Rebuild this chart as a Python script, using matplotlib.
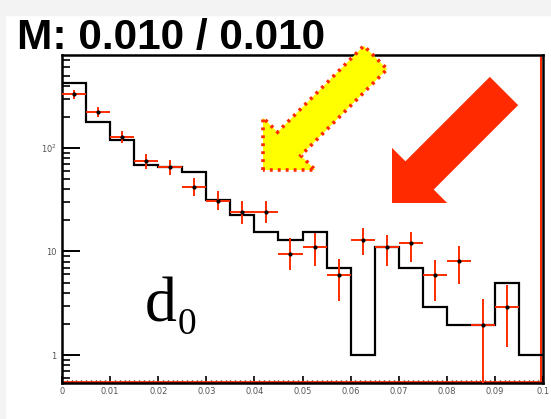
import numpy as np
import matplotlib.pyplot as plt
from matplotlib.patches import FancyArrow, Rectangle

# 20 bins on 0 .. 0.1
edges = np.linspace(0.0, 0.1, 21)
centers = 0.5 * (edges[:-1] + edges[1:])

# black step histogram
mc_counts = [422, 180, 119, 69, 65, 59, 31.5, 22.5, 15.5, 12.9,
             15.5, 6.9, 1.0, 11.1, 6.9, 2.93, 1.95, 1.95, 4.93, 1.0]

# red points, with lower / upper ends of the error bars
data_counts = np.array([330, 224, 127, 74, 65, 42, 31, 24, 24.3, 9.5,
                        11.1, 5.9, 12.9, 11.1, 12.0, 5.9, 8.15, 1.95, 2.93])
data_low = np.array([300, 200, 111, 63, 55, 34.5, 25, 18.5, 19, 6.6,
                     7.2, 3.3, 9.25, 7.2, 8.0, 3.3, 4.85, 0.3, 1.2])
data_high = np.array([360, 250, 145, 87, 77, 51.5, 38, 31, 31, 13.5,
                      15, 8.4, 16.8, 14.4, 15.5, 8.3, 11.3, 3.5, 4.75])

xticks = [0, 0.01, 0.02, 0.03, 0.04, 0.05, 0.06, 0.07, 0.08, 0.09, 0.1]
xtick_labels = ['0', '0.01', '0.02', '0.03', '0.04', '0.05', '0.06',
                '0.07', '0.08', '0.09', '0.1']
yticks = [1, 10, 100]
ytick_labels = ['1', '10', r'$10^{2}$']

title = 'M: 0.010 / 0.010'
red = '#ff2a00'

W, H = 551, 419
fig = plt.figure(figsize=(W / 100, H / 100), dpi=100)
fig.patch.set_facecolor('white')
fig.patches.append(Rectangle((0, 1 - 15 / H), 1, 15 / H, transform=fig.transFigure,
                             color='#f3f3f3', zorder=-5))
fig.patches.append(Rectangle((0, 0), 5 / W, 1, transform=fig.transFigure,
                             color='#f3f3f3', zorder=-5))

ax = fig.add_axes([62 / W, 1 - 383 / H, (543 - 62) / W, (383 - 55) / H])
ax.set_yscale('log')

ax.stairs(mc_counts, edges, baseline=None, color='black', lw=1.6, zorder=3)
ax.errorbar(centers[:len(data_counts)], data_counts,
            yerr=[data_counts - data_low, data_high - data_counts],
            xerr=0.0025, fmt='o', ms=2, mfc='black', mec='black',
            ecolor=red, elinewidth=1.4, capsize=0, zorder=4)
ax.axhline(0.55, color=red, lw=2, zorder=2)
ax.axvline(0.0996, color=red, lw=1.5, zorder=2)

ax.set_xlim(0, 0.1)
ax.set_ylim(0.537, 790)
ax.set_xticks(xticks, xtick_labels)
ax.set_xticks(np.arange(0, 0.1001, 0.001), minor=True)
ax.set_yticks(yticks, ytick_labels)
ax.yaxis.set_minor_locator(plt.matplotlib.ticker.LogLocator(base=10, subs=np.arange(2, 10)))
ax.yaxis.set_minor_formatter(plt.NullFormatter())

ax.tick_params(which='both', direction='in', top=False, right=False,
               labelsize=6, labelcolor='#555555', color='black')
ax.tick_params(axis='y', which='major', length=13, width=1.4, pad=4)
ax.tick_params(axis='y', which='minor', length=6, width=1.2)
ax.tick_params(axis='x', which='major', length=5, width=1.2, pad=3)
ax.tick_params(axis='x', which='minor', length=2, width=1.0)
for s in ax.spines.values():
    s.set_linewidth(1.8)
    s.set_color('black')

# arrows (pixel geometry converted to inches)
def inch(x, y):
    return x / 100, (H - y) / 100

x0, y0 = inch(375.5, 57.5)
x1, y1 = inch(263, 170)
fig.patches.append(FancyArrow(x0, y0, x1 - x0, y1 - y0, width=0.33,
                              head_width=0.74, head_length=0.37,
                              length_includes_head=True,
                              transform=fig.dpi_scale_trans,
                              facecolor='#ffff00', edgecolor=red, lw=2.6,
                              linestyle=(0, (0.8, 1.4)), zorder=6))
x0, y0 = inch(504, 91)
x1, y1 = inch(392, 203)
fig.patches.append(FancyArrow(x0, y0, x1 - x0, y1 - y0, width=0.40,
                              head_width=0.78, head_length=0.39,
                              length_includes_head=True,
                              transform=fig.dpi_scale_trans,
                              facecolor=red, edgecolor='none', zorder=6))

fig.text(17 / W, 1 - 49 / H, title, fontsize=30.5, fontweight='bold',
         family='Liberation Sans', ha='left', va='baseline')
fig.text(145 / W, 1 - 321 / H, 'd', fontsize=46, family='Liberation Serif',
         ha='left', va='baseline')
fig.text(178 / W, 1 - 334 / H, '0', fontsize=27, family='Liberation Serif',
         ha='left', va='baseline')

fig.savefig('out.png', dpi=100)
